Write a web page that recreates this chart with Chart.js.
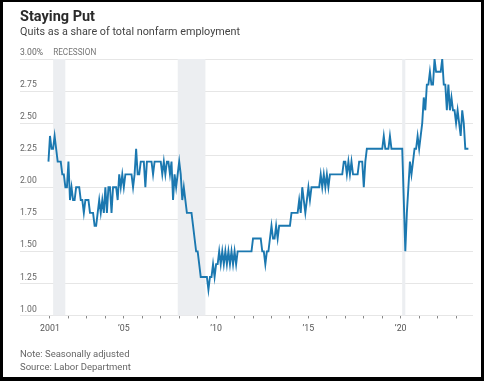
<!DOCTYPE html>
<html>
<head>
<meta charset="utf-8">
<script src="https://cdn.jsdelivr.net/npm/chart.js@4.4.0/dist/chart.umd.min.js"></script>
<style>
  html, body { margin: 0; padding: 0; background: #fff; }
  #page { position: relative; width: 484px; height: 381px; overflow: hidden; font-family: Roboto, sans-serif; }
  #chart { position: absolute; left: 0; top: 0; }
  #frame {
    position: absolute; left: 0; top: 0; width: 484px; height: 381px; box-sizing: border-box;
    border: 3px solid #000; border-top-width: 2px; border-bottom-width: 4px;
  }
  .txt { position: absolute; left: 20px; white-space: nowrap; line-height: 1; }
  #title { top: 9.5px; font-size: 14.5px; font-weight: bold; color: #2a2a2a; }
  #subtitle { top: 27px; font-size: 10.8px; color: #444; }
  #note { top: 348.5px; font-size: 9.5px; color: #666; }
  #source { top: 362px; font-size: 9.5px; color: #666; }
</style>
</head>
<body>
<div id="page">
  <canvas id="chart" width="484" height="381"></canvas>
  <div class="txt" id="title">Staying Put</div>
  <div class="txt" id="subtitle">Quits as a share of total nonfarm employment</div>
  <div class="txt" id="note">Note: Seasonally adjusted</div>
  <div class="txt" id="source">Source: Labor Department</div>
  <div id="frame"></div>
</div>
<script>
// monthly quits rate, percent, Dec 2000 through Sep 2023
const startYear = 2000;
const startMonth = 12;
const quits = [
  2.2,
  2.4, 2.3, 2.3, 2.4, 2.3, 2.2, 2.2, 2.2, 2.1, 2.1, 2.0, 2.0, // 2001
  2.2, 1.9, 2.0, 1.9, 1.9, 2.0, 2.0, 2.0, 1.9, 1.9, 1.8, 1.9, // 2002
  1.9, 1.9, 1.8, 1.8, 1.8, 1.7, 1.7, 1.8, 1.9, 1.8, 1.9, 1.8, // 2003
  2.0, 1.8, 2.0, 2.0, 1.8, 2.0, 2.0, 2.0, 1.9, 2.1, 2.0, 2.1, // 2004
  2.0, 2.1, 2.1, 2.1, 2.1, 2.1, 2.0, 2.1, 2.3, 2.1, 2.1, 2.2, // 2005
  2.2, 2.2, 2.0, 2.2, 2.2, 2.2, 2.2, 2.1, 2.2, 2.2, 2.2, 2.2, // 2006
  2.2, 2.1, 2.2, 2.1, 2.2, 2.2, 2.1, 2.2, 1.9, 2.1, 2.0, 2.1, // 2007
  2.2, 2.1, 1.9, 2.0, 1.9, 1.8, 1.8, 1.8, 1.8, 1.7, 1.6, 1.5, // 2008
  1.5, 1.4, 1.3, 1.3, 1.3, 1.3, 1.3, 1.2, 1.3, 1.3, 1.4, 1.3, // 2009
  1.4, 1.4, 1.5, 1.4, 1.5, 1.4, 1.5, 1.4, 1.5, 1.4, 1.5, 1.4, // 2010
  1.5, 1.4, 1.5, 1.5, 1.5, 1.5, 1.5, 1.5, 1.5, 1.5, 1.5, 1.5, // 2011
  1.6, 1.6, 1.6, 1.6, 1.6, 1.6, 1.5, 1.5, 1.4, 1.5, 1.5, 1.6, // 2012
  1.7, 1.6, 1.6, 1.7, 1.6, 1.7, 1.7, 1.7, 1.7, 1.7, 1.7, 1.7, // 2013
  1.7, 1.8, 1.8, 1.8, 1.8, 1.8, 1.9, 1.8, 2.0, 1.9, 1.8, 1.9, // 2014
  2.0, 1.9, 2.0, 2.0, 2.0, 2.0, 2.0, 2.0, 2.1, 2.0, 2.1, 2.0, // 2015
  2.1, 2.0, 2.1, 2.1, 2.1, 2.1, 2.1, 2.1, 2.1, 2.1, 2.1, 2.2, // 2016
  2.2, 2.1, 2.2, 2.1, 2.2, 2.1, 2.1, 2.1, 2.1, 2.2, 2.2, 2.2, // 2017
  2.0, 2.2, 2.3, 2.3, 2.3, 2.3, 2.3, 2.3, 2.3, 2.3, 2.3, 2.3, // 2018
  2.3, 2.4, 2.3, 2.3, 2.3, 2.4, 2.3, 2.3, 2.3, 2.3, 2.3, 2.3, // 2019
  2.3, 2.3, 1.9, 1.5, 1.8, 2.0, 2.2, 2.1, 2.2, 2.3, 2.3, 2.4, // 2020
  2.3, 2.4, 2.5, 2.7, 2.6, 2.8, 2.8, 2.9, 2.8, 2.8, 3.0, 2.9, // 2021
  2.9, 2.9, 2.9, 3.0, 2.8, 2.8, 2.6, 2.8, 2.6, 2.7, 2.6, 2.6, // 2022
  2.5, 2.6, 2.5, 2.4, 2.6, 2.5, 2.3, 2.3, 2.3                 // 2023
];

// recessions as decimal years
const recessionStart = [2001.17, 2007.92, 2020.08];
const recessionEnd = [2001.83, 2009.42, 2020.25];

const yTicks = [1.00, 1.25, 1.50, 1.75, 2.00, 2.25, 2.50, 2.75, 3.00];
const xTickYears = [2001, 2002, 2003, 2004, 2005, 2006, 2007, 2008, 2009, 2010, 2011, 2012,
  2013, 2014, 2015, 2016, 2017, 2018, 2019, 2020, 2021, 2022, 2023];
const xLabelYears = [2001, 2005, 2010, 2015, 2020];
const xLabels = ['2001', '’05', '’10', '’15', '’20'];

const FONT = 'Roboto, sans-serif';

const points = quits.map((v, i) => ({
  x: startYear + (startMonth - 1 + i) / 12,
  y: v
}));

const recessionShade = {
  id: 'recessionShade',
  beforeDatasetsDraw(chart) {
    const { ctx, chartArea, scales: { x } } = chart;
    ctx.save();
    ctx.fillStyle = '#eceef1';
    recessionStart.forEach((s, i) => {
      const x0 = x.getPixelForValue(s);
      const x1 = x.getPixelForValue(recessionEnd[i]);
      ctx.fillRect(x0, chartArea.top, Math.max(x1 - x0, 2), chartArea.bottom - chartArea.top);
    });
    ctx.fillStyle = '#777';
    ctx.font = '8.2px ' + FONT;
    ctx.textBaseline = 'middle';
    ctx.fillText('RECESSION', x.getPixelForValue(recessionStart[0]), chartArea.top - 6);
    ctx.restore();
  }
};

new Chart(document.getElementById('chart'), {
  type: 'line',
  data: {
    datasets: [{
      data: points,
      borderColor: '#1b78b0',
      borderWidth: 1.9,
      pointRadius: 0,
      tension: 0,
      fill: false
    }]
  },
  options: {
    responsive: false,
    animation: false,
    layout: { padding: { top: 59, left: 20, right: 11, bottom: 42 } },
    plugins: { legend: { display: false }, tooltip: { enabled: false } },
    scales: {
      x: {
        type: 'linear',
        min: 1999.375,
        max: 2023.917,
        afterBuildTicks: scale => { scale.ticks = xTickYears.map(v => ({ value: v })); },
        border: { display: false },
        grid: { drawOnChartArea: false, drawTicks: true, tickLength: 3, tickColor: '#888' },
        ticks: {
          autoSkip: false, maxRotation: 0, padding: 5, color: '#555',
          font: { family: FONT, size: 8.8 },
          callback: v => {
            const k = xLabelYears.indexOf(v);
            return k >= 0 ? xLabels[k] : '';
          }
        }
      },
      y: {
        min: 1, max: 3,
        afterBuildTicks: scale => { scale.ticks = yTicks.map(v => ({ value: v })); },
        border: { display: false },
        grid: { color: '#e6e6e6', drawTicks: false },
        ticks: {
          mirror: true, padding: 0, labelOffset: -6, color: '#666',
          font: { family: FONT, size: 8.6 },
          callback: v => v === 3 ? '3.00%' : v.toFixed(2)
        }
      }
    }
  },
  plugins: [recessionShade]
});
</script>
</body>
</html>
